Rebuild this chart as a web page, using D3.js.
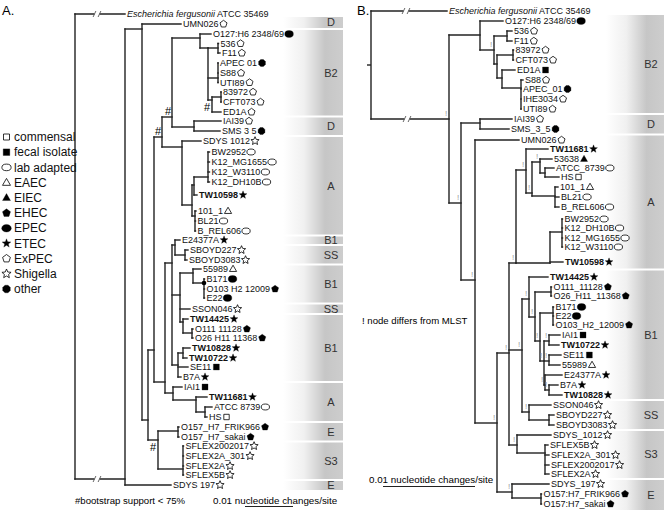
<!DOCTYPE html>
<html><head><meta charset="utf-8">
<script src="https://cdn.jsdelivr.net/npm/d3@7"></script>
<style>body{margin:0;background:#fff}svg{display:block}text{font-family:"Liberation Sans",Arial,sans-serif}</style>
</head><body><svg id="c" width="664" height="510"></svg>
<script>
// ---------- DATA ----------
// tree rows: [id, parent, depth (scale units; bar = 0.01 changes/site), row (leaf slot / join slot), label, type, bold, mark]
const treeA = [
["R",null,0,null],
["OUT","R",50,0,"Escherichia fergusonii|ATCC 35469",null,0,"brk"],
["N125","R",50,46.5,null,null,0,"brk"],
["SDYS197","N125",96,47.1,"SDYS 197","Shigella"],
["N142","N125",67,1.5],
["UMN026","N142",106,1.0,"UMN026","ExPEC"],
["N148","N142",73,40.6],
["N154","N148",79,33.6],
["N162","N154",87,12.3,null,null,0,"#"],
["N173","N162",97,10.3,null,null,0,"#"],
["NB2","N173",125,2.4],
["O127","NB2",136,2.0,"O127:H6 2348/69","EPEC"],
["NB2a","NB2",133,3.4],
["N536","NB2a",143,3.4],
["536","N536",143.5,2.95,"536","ExPEC"],
["F11","N536",145,3.9,"F11","ExPEC"],
["NAPEC","NB2a",143,6.4],
["APEC","NAPEC",143,4.9,"APEC 01","other"],
["S88","NAPEC",143,5.9,"S88","ExPEC"],
["UTI89","NAPEC",143,6.85,"UTI89","ExPEC"],
["NB2b","NB2a",137,8.6,null,null,0,"#b"],
["N83","NB2b",146,8.3],
["83972","N83",146,7.8,"83972","ExPEC"],
["CFT073","N83",146,8.8,"CFT073","ExPEC"],
["ED1A","NB2b",146,9.8,"ED1A","ExPEC"],
["ND","N173",119,11.3],
["IAI39","ND",146,10.7,"IAI39","ExPEC"],
["SMS","ND",145,11.7,"SMS 3 5","other"],
["N182","N162",107,13.3],
["SDYS1012","N182",126,12.7,"SDYS 1012","Shigella"],
["NA1","N182",117,19.1],
["NA2","NA1",119,17.1],
["NK12","NA2",133,16.3],
["BW2952","NK12",134.5,13.8,"BW2952","lab"],
["MG1655","NK12",134.5,14.8,"K12_MG1655","lab"],
["W3110","NK12",134.5,15.8,"K12_W3110","lab"],
["DH10B","NK12",134.5,16.8,"K12_DH10B","lab"],
["TW10598","NA2",122,18.1,"TW10598","ETEC",1],
["NA3","NA1",120,20.2],
["101_1","NA3",121,19.7,"101_1","EAEC"],
["BL21","NA3",120.5,20.7,"BL21","lab"],
["BREL","NA3",120.5,21.7,"B_REL606","lab"],
["N165","N154",90,36.8],
["NB1g","N165",97,24.9],
["NE24","NB1g",100,23.1],
["E24377A","NE24",105,22.6,"E24377A","ETEC"],
["NSB","NE24",110,24.1],
["SBOYD227","NSB",113,23.6,"SBOYD227","Shigella"],
["SBOYD3083","NSB",112,24.6,"SBOYD3083","Shigella"],
["NB1u","NB1g",105,28.1],
["N559","NB1u",118,25.9],
["55989","N559",126,25.5,"55989","EAEC"],
["NB171","N559",129,26.9,null,null,0,"dot"],
["B171","NB171",129.5,26.5,"B171","EPEC"],
["O103","NB171",129.5,27.5,"O103 H2 12009","EHEC"],
["E22","NB171",129.5,28.4,"E22","EPEC"],
["SSON046","NB1u",115,29.5,"SSON046","Shigella"],
["NTW14","NB1u",108,30.8],
["TW14425","NTW14",113,30.5,"TW14425","ETEC",1],
["NO111","NTW14",117,31.9],
["O111","NO111",118,31.5,"O111 11128","EHEC"],
["O26","NO111",118,32.4,"O26 H11 11368","EHEC"],
["NB1l","NB1g",103,35.1],
["NTW108","NB1l",108,33.9],
["TW10828","NTW108",115,33.4,"TW10828","ETEC",1],
["TW10722","NTW108",112,34.4,"TW10722","ETEC",1],
["SE11","NB1l",113,35.3,"SE11","fecal"],
["B7A","NB1l",106,36.3,"B7A","ETEC"],
["N173b","N165",98,37.9],
["IAI1","N173b",107,37.3,"IAI1","fecal"],
["NTW116","N173b",121,38.6],
["TW11681","NTW116",132,38.3,"TW11681","ETEC",1],
["NHS","NTW116",130,39.8],
["ATCC8739","NHS",137,39.3,"ATCC 8739","lab"],
["HS","NHS",132,40.3,"HS","commensal"],
["N158","N148",83,42.6,null,null,0,"#b"],
["NO157","N158",103,41.7],
["FRIK966","NO157",104,41.3,"O157_H7_FRIK966","EHEC"],
["sakai","NO157",104,42.3,"O157_H7_sakai","EHEC"],
["NSF","N158",108,45.5],
["SF2002017","NSF",108.5,43.2,"SFLEX2002017","Shigella"],
["SF2A301","NSF",108.5,44.2,"SFLEX2A_301","Shigella"],
["SF2A","NSF",108.5,45.2,"SFLEX2A","Shigella"],
["SF5B","NSF",108.5,46.1,"SFLEX5B","Shigella"]
];

const treeB = [
["R",null,0,null],
["OUT","R",76,0,"Escherichia fergusonii|ATCC 35469",null,0,"brk"],
["N449","R",78,10.8,null,null,0,"brk!"],
["NB2","N449",109,2.4],
["O127","NB2",132,1.0,"O127:H6 2348/69","EPEC"],
["NB2a","NB2",123,3.9,null,null,0,"!"],
["N536","NB2a",136,2.5],
["536","N536",141,2.0,"536","ExPEC"],
["F11","N536",141,3.0,"F11","ExPEC"],
["NB2b","NB2a",126,5.3],
["N83","NB2b",142,4.4],
["83972","N83",142.5,3.9,"83972","ExPEC"],
["CFT073","N83",142.5,4.9,"CFT073","ExPEC"],
["NB2c","NB2b",131,6.7],
["ED1A","NB2c",144,5.9,"ED1A","fecal"],
["NS88","NB2c",150,7.7],
["S88","NS88",152,6.9,"S88","ExPEC"],
["APEC","NS88",150,7.8,"APEC_01","other"],
["IHE3034","NS88",150,8.8,"IHE3034","ExPEC"],
["UTI89","NS88",150,9.8,"UTI89","ExPEC"],
["N461","N449",90,19.2,null,null,0,"!"],
["ND","N461",109,11.2],
["IAI39","ND",141,10.8,"IAI39","ExPEC"],
["SMS","ND",138,11.8,"SMS_3_5","other"],
["N475","N461",104,26.9,null,null,0,"!"],
["UMN026","N475",148,12.9,"UMN026","ExPEC"],
["N497","N475",126,41.2,null,null,0,"!"],
["N509","N497",138,34.2,null,null,0,"!"],
["NA","N509",145,25.2,null,null,0,"!"],
["NA1","NA",155,15.9,null,null,0,"!"],
["TW11681","NA1",177,13.8,"TW11681","ETEC",1],
["NA1b","NA1",161,18.2,null,null,0,"!"],
["N53","NA1b",169,15.1,null,null,0,"!"],
["53638","N53",181,14.8,"53638","EIEC"],
["NHS","N53",174,16.2],
["ATCC","NHS",183,15.7,"ATCC_8739","lab"],
["HS","NHS",188,16.6,"HS","commensal"],
["NBs","NA1b",184,18.5],
["101_1","NBs",187,17.6,"101_1","EAEC"],
["BL21","NBs",188,18.6,"BL21","lab"],
["BREL","NBs",188,19.6,"B_REL606","lab"],
["NK","NA",179,25.2],
["NK12","NK",191,22.1],
["BW2952","NK12",191.5,20.8,"BW2952","lab"],
["DH10B","NK12",191.5,21.7,"K12_DH10B","lab"],
["MG1655","NK12",191.5,22.7,"K12_MG1655","lab"],
["W3110","NK12",191.5,23.6,"K12_W3110","lab"],
["TW10598","NK",192,25.1,"TW10598","ETEC",1],
["N522","N509",151,33.9,null,null,0,"!"],
["NB1","N522",158,28.8,null,null,0,"!"],
["TW14425","NB1",177,26.6,"TW14425","ETEC",1],
["NB1a","NB1",164,30.6,null,null,0,"!"],
["NO111","NB1a",180,28.1],
["O111","NO111",180.5,27.6,"O111_11128","EHEC"],
["O26","NO111",180.5,28.5,"O26_H11_11368","EHEC"],
["NB1b","NB1a",169,33.0,null,null,0,"!"],
["NB171","NB1b",182,30.2],
["B171","NB171",182.5,29.6,"B171","EPEC"],
["E22","NB171",182.5,30.5,"E22","EPEC"],
["O103","NB171",182.5,31.4,"O103_H2_12009","EHEC"],
["NB1c","NB1b",173,35.0,null,null,0,"!"],
["NIAI","NB1c",178,33.0,null,null,0,"!"],
["IAI1","NIAI",189,32.4,"IAI1","fecal"],
["TW10722","NIAI",188,33.4,"TW10722","ETEC",1],
["NSE","NB1c",178,35.0,null,null,0,"!"],
["SE11","NSE",190,34.4,"SE11","fecal"],
["55989","NSE",189,35.4,"55989","EAEC"],
["NB1d","NB1c",174,37.4,null,null,0,"!"],
["E24377A","NB1d",191,36.4,"E24377A","ETEC"],
["NB7","NB1d",178,37.9,null,null,0,"!"],
["B7A","NB7",187,37.4,"B7A","ETEC"],
["TW10828","NB7",191,38.4,"TW10828","ETEC",1],
["NSS","N522",158,40.1,null,null,0,"!"],
["SSON046","NSS",180,39.4,"SSON046","Shigella"],
["NSB","NSS",178,40.9],
["SBOYD227","NSB",183,40.4,"SBOYD227","Shigella"],
["SBOYD3083","NSB",183,41.4,"SBOYD3083","Shigella"],
["NS3","N509",146,43.4,null,null,0,"!"],
["SDYS1012","NS3",180,42.4,"SDYS_1012","Shigella"],
["NSF","NS3",174,44.2],
["SF5B","NSF",177,43.4,"SFLEX5B","Shigella"],
["SF2A301","NSF",178,44.4,"SFLEX2A_301","Shigella"],
["SF2002017","NSF",178,45.4,"SFLEX2002017","Shigella"],
["SF2A","NSF",178,46.3,"SFLEX2A","Shigella"],
["NE","N497",141,48.1,null,null,0,"!"],
["SDYS197","NE",178,47.3,"SDYS_197","Shigella"],
["NO157","NE",170,48.7],
["FRIK966","NO157",170.5,48.3,"O157:H7_FRIK966","EHEC"],
["sakai","NO157",170.5,49.3,"O157:H7_sakai","EHEC"]
];

// phylogroup bands: [label, first leaf, last leaf]
const bandsA = [["D","UMN026","UMN026"],["B2","O127","ED1A"],["D","IAI39","SMS"],["A","SDYS1012","BREL"],["B1","E24377A","E24377A"],["SS","SBOYD227","SBOYD3083"],["B1","55989","E22"],["SS","SSON046","SSON046"],["B1","TW14425","B7A"],["A","IAI1","HS"],["E","FRIK966","sakai"],["S3","SF2002017","SF5B"],["E","SDYS197","SDYS197"]];
const bandsB = [["B2","O127","UTI89"],["D","IAI39","SMS"],["A","UMN026","TW10598"],["B1","TW14425","TW10828"],["SS","SSON046","SBOYD3083"],["S3","SDYS1012","SF2A"],["E","SDYS197","sakai"]];

const legendTypes = ["commensal","fecal","lab","EAEC","EIEC","EHEC","EPEC","ETEC","ExPEC","Shigella","other"];
const legendLabels = ["commensal","fecal isolate","lab adapted","EAEC","EIEC","EHEC","EPEC","ETEC","ExPEC","Shigella","other"];

const scaleBarValue = 0.01;
const scaleUnitsA = 48, scaleUnitsB = 92;

// ---------- DRAW ----------
const svg = d3.select("#c");
const LINE = "#222";

const defs = svg.append("defs");
const grad = defs.append("linearGradient").attr("id","bandGrad").attr("x1","0").attr("x2","1").attr("y1","0").attr("y2","0");
grad.append("stop").attr("offset","0").attr("stop-color","#fff");
grad.append("stop").attr("offset","0.35").attr("stop-color","#f0f0f0");
grad.append("stop").attr("offset","0.7").attr("stop-color","#c6c6c6");
grad.append("stop").attr("offset","1").attr("stop-color","#cdcdcd");

function polyPath(n, r, rot){
  rot = rot==null ? -Math.PI/2 : rot;
  const pts = d3.range(n).map(i=>{const a=rot+i*2*Math.PI/n;return [r*Math.cos(a), r*Math.sin(a)];});
  return "M"+pts.map(p=>p.join(",")).join("L")+"Z";
}
function starPath(ro, ri){
  const pts = d3.range(10).map(i=>{const a=-Math.PI/2+i*Math.PI/5;const r=i%2?ri:ro;return [r*Math.cos(a), r*Math.sin(a)];});
  return "M"+pts.map(p=>p.join(",")).join("L")+"Z";
}
function ellPath(rx, ry){ return `M${-rx},0A${rx},${ry} 0 1,0 ${rx},0A${rx},${ry} 0 1,0 ${-rx},0Z`; }
function rectPath(h){ return `M${-h},${-h}H${h}V${h}H${-h}Z`; }
function triPath(r){ return `M0,${-r}L${r*0.95},${r*0.65}L${-r*0.95},${r*0.65}Z`; }

function drawIcon(g, type, x, y, k){
  let p, filled;
  switch(type){
    case "commensal": p=rectPath(3*k); filled=false; break;
    case "fecal": p=rectPath(3.3*k); filled=true; break;
    case "lab": p=ellPath(4.6*k,3.3*k); filled=false; break;
    case "EAEC": p=triPath(4.2*k); filled=false; break;
    case "EIEC": p=triPath(4.2*k); filled=true; break;
    case "EHEC": p=polyPath(5,4.2*k); filled=true; break;
    case "EPEC": p=ellPath(4.8*k,3.8*k); filled=true; break;
    case "ETEC": p=starPath(4.6*k,1.9*k); filled=true; break;
    case "ExPEC": p=polyPath(5,4.1*k); filled=false; break;
    case "Shigella": p=starPath(4.8*k,2.2*k); filled=false; break;
    case "other": p=polyPath(8,4.1*k,Math.PI/8); filled=true; break;
    default: return;
  }
  g.append("path").attr("d",p).attr("transform",`translate(${x},${y})`)
    .attr("fill",filled?"#000":"#fff").attr("stroke","#000").attr("stroke-width",filled?0.3:0.8);
}

function drawBands(g, bands, nodes, ys, x0, x1, lx, top, bottom){
  const rows = bands.map(b=>[ys(nodes.get(b[1]).row), ys(nodes.get(b[2]).row)]);
  const bounds = bands.map((b,i)=>{
    const t = i===0 ? top : (rows[i-1][1]+rows[i][0])/2 + 1;
    const bt = i===bands.length-1 ? bottom : (rows[i][1]+rows[i+1][0])/2 - 1;
    return [t, bt];
  });
  g.selectAll(null).data(bands).join("rect")
    .attr("x",x0).attr("width",x1-x0)
    .attr("y",(d,i)=>bounds[i][0]).attr("height",(d,i)=>bounds[i][1]-bounds[i][0])
    .attr("fill","url(#bandGrad)");
  g.selectAll(null).data(bands).join("text")
    .attr("x",lx).attr("y",(d,i)=>(bounds[i][0]+bounds[i][1])/2).attr("dy","0.35em")
    .attr("text-anchor","middle").attr("font-size",11).attr("fill","#333").text(d=>d[0]);
}

function buildTree(rows){
  const nodes = new Map(rows.map(r=>[r[0],{id:r[0],parent:r[1],depth:r[2],row:r[3],label:r[4]||null,type:r[5]||null,bold:!!r[6],mark:r[7]||"",children:[]}]));
  nodes.forEach(n=>{ if(n.parent) nodes.get(n.parent).children.push(n); });
  return nodes;
}

function drawTree(g, nodes, xs, ys){
  const segs = [];
  nodes.forEach(n=>{
    if(n.parent){
      const p = nodes.get(n.parent);
      segs.push([xs(p.depth), ys(n.row), xs(n.depth), ys(n.row)]);
    }
    if(n.children.length){
      const r = n.children.map(c=>c.row); if(n.row!=null) r.push(n.row);
      const e = d3.extent(r);
      segs.push([xs(n.depth), ys(e[0]), xs(n.depth), ys(e[1])]);
    }
  });
  g.selectAll(null).data(segs).join("line")
    .attr("x1",d=>d[0]).attr("y1",d=>d[1]).attr("x2",d=>d[2]).attr("y2",d=>d[3])
    .attr("stroke",LINE).attr("stroke-width",1.4).attr("stroke-linecap","square");

  // break marks
  nodes.forEach(n=>{
    if(!n.mark.includes("brk")) return;
    const p = nodes.get(n.parent);
    const mx = (xs(p.depth)+xs(n.depth))/2 - 3, y = ys(n.row);
    g.append("rect").attr("x",mx-2.5).attr("y",y-1.5).attr("width",5).attr("height",3).attr("fill","#fff");
    [-2.5,2.5].forEach(s=>g.append("line").attr("x1",mx+s-1.4).attr("y1",y+3).attr("x2",mx+s+1.4).attr("y2",y-3)
      .attr("stroke","#555").attr("stroke-width",0.9));
  });

  // node marks
  nodes.forEach(n=>{
    const x = xs(n.depth), y = ys(n.row);
    if(n.mark==="#") g.append("text").attr("x",x-4).attr("y",y-2).attr("text-anchor","middle").attr("font-size",11).text("#");
    if(n.mark==="#b") g.append("text").attr("x",x-5).attr("y",y+11).attr("text-anchor","middle").attr("font-size",11).text("#");
    if(n.mark.includes("!")) g.append("text").attr("x",x-3).attr("y",y-3).attr("text-anchor","middle").attr("font-size",8).attr("fill","#999").text("!");
    if(n.mark==="dot") g.append("circle").attr("cx",x).attr("cy",y).attr("r",2.3).attr("fill","#000");
  });

  // labels
  nodes.forEach(n=>{
    if(!n.label) return;
    const t = g.append("text").attr("x",xs(n.depth)+2).attr("y",ys(n.row)).attr("dy","0.35em")
      .attr("font-size",9).attr("fill","#111").attr("font-weight",n.bold?"bold":null);
    if(n.label.includes("|")){
      const [it, rest] = n.label.split("|");
      t.append("tspan").attr("font-style","italic").text(it);
      t.append("tspan").text(" "+rest);
    } else t.text(n.label);
    if(n.type){
      const w = t.node().getComputedTextLength();
      drawIcon(g, n.type, xs(n.depth)+2+w+5, ys(n.row), 0.9);
    }
  });
}

// ---- Panel A ----
const nodesA = buildTree(treeA);
const xA = d3.scaleLinear().domain([0,scaleUnitsA]).range([75,123]);
const yA = d3.scaleLinear().domain([0,1]).range([14,24]);
const gA = svg.append("g");
drawBands(gA, bandsA, nodesA, yA, 283, 343, 331, 17, 490);
drawTree(gA, nodesA, xA, yA);
gA.append("text").attr("x",2).attr("y",15).attr("font-size",13).text("A.");

// legend
const legY = d3.scaleLinear().domain([0,legendTypes.length-1]).range([137,289]);
const gL = svg.append("g");
legendTypes.forEach((t,i)=>{
  drawIcon(gL, t, 6.5, legY(i), 1.0);
  gL.append("text").attr("x",14).attr("y",legY(i)).attr("dy","0.35em").attr("font-size",12).attr("fill","#111").text(legendLabels[i]);
});

gA.append("text").attr("x",75).attr("y",501).attr("dy","0.35em").attr("font-size",9.6).text("#bootstrap support < 75%");
gA.append("text").attr("x",213).attr("y",501).attr("dy","0.35em").attr("font-size",9.8).text("0.01 nucleotide changes/site");
gA.append("line").attr("x1",245).attr("x2",245+xA(scaleUnitsA)-xA(0)).attr("y1",506.5).attr("y2",506.5).attr("stroke","#222").attr("stroke-width",1);

// ---- Panel B ----
const nodesB = buildTree(treeB);
const xB = d3.scaleLinear().domain([0,scaleUnitsB]).range([371,371+92]);
const yB = d3.scaleLinear().domain([0,1]).range([11,21]);
const gB = svg.append("g");
drawBands(gB, bandsB, nodesB, yB, 606, 664, 651, 15, 510);
drawTree(gB, nodesB, xB, yB);
// root stub
gB.append("line").attr("x1",xB(0)-4).attr("x2",xB(0)).attr("y1",(yB(0)+yB(10.8))/2).attr("y2",(yB(0)+yB(10.8))/2).attr("stroke",LINE).attr("stroke-width",1.4);
gB.append("text").attr("x",357).attr("y",15).attr("font-size",13).text("B.");
gB.append("text").attr("x",362).attr("y",321).attr("dy","0.35em").attr("font-size",9.6).text("!  node differs from MLST");
gB.append("text").attr("x",369).attr("y",480).attr("dy","0.35em").attr("font-size",9.8).text("0.01 nucleotide changes/site");
gB.append("line").attr("x1",383).attr("x2",383+xB(scaleUnitsB)-xB(0)).attr("y1",486.5).attr("y2",486.5).attr("stroke","#222").attr("stroke-width",1);
</script></body></html>
